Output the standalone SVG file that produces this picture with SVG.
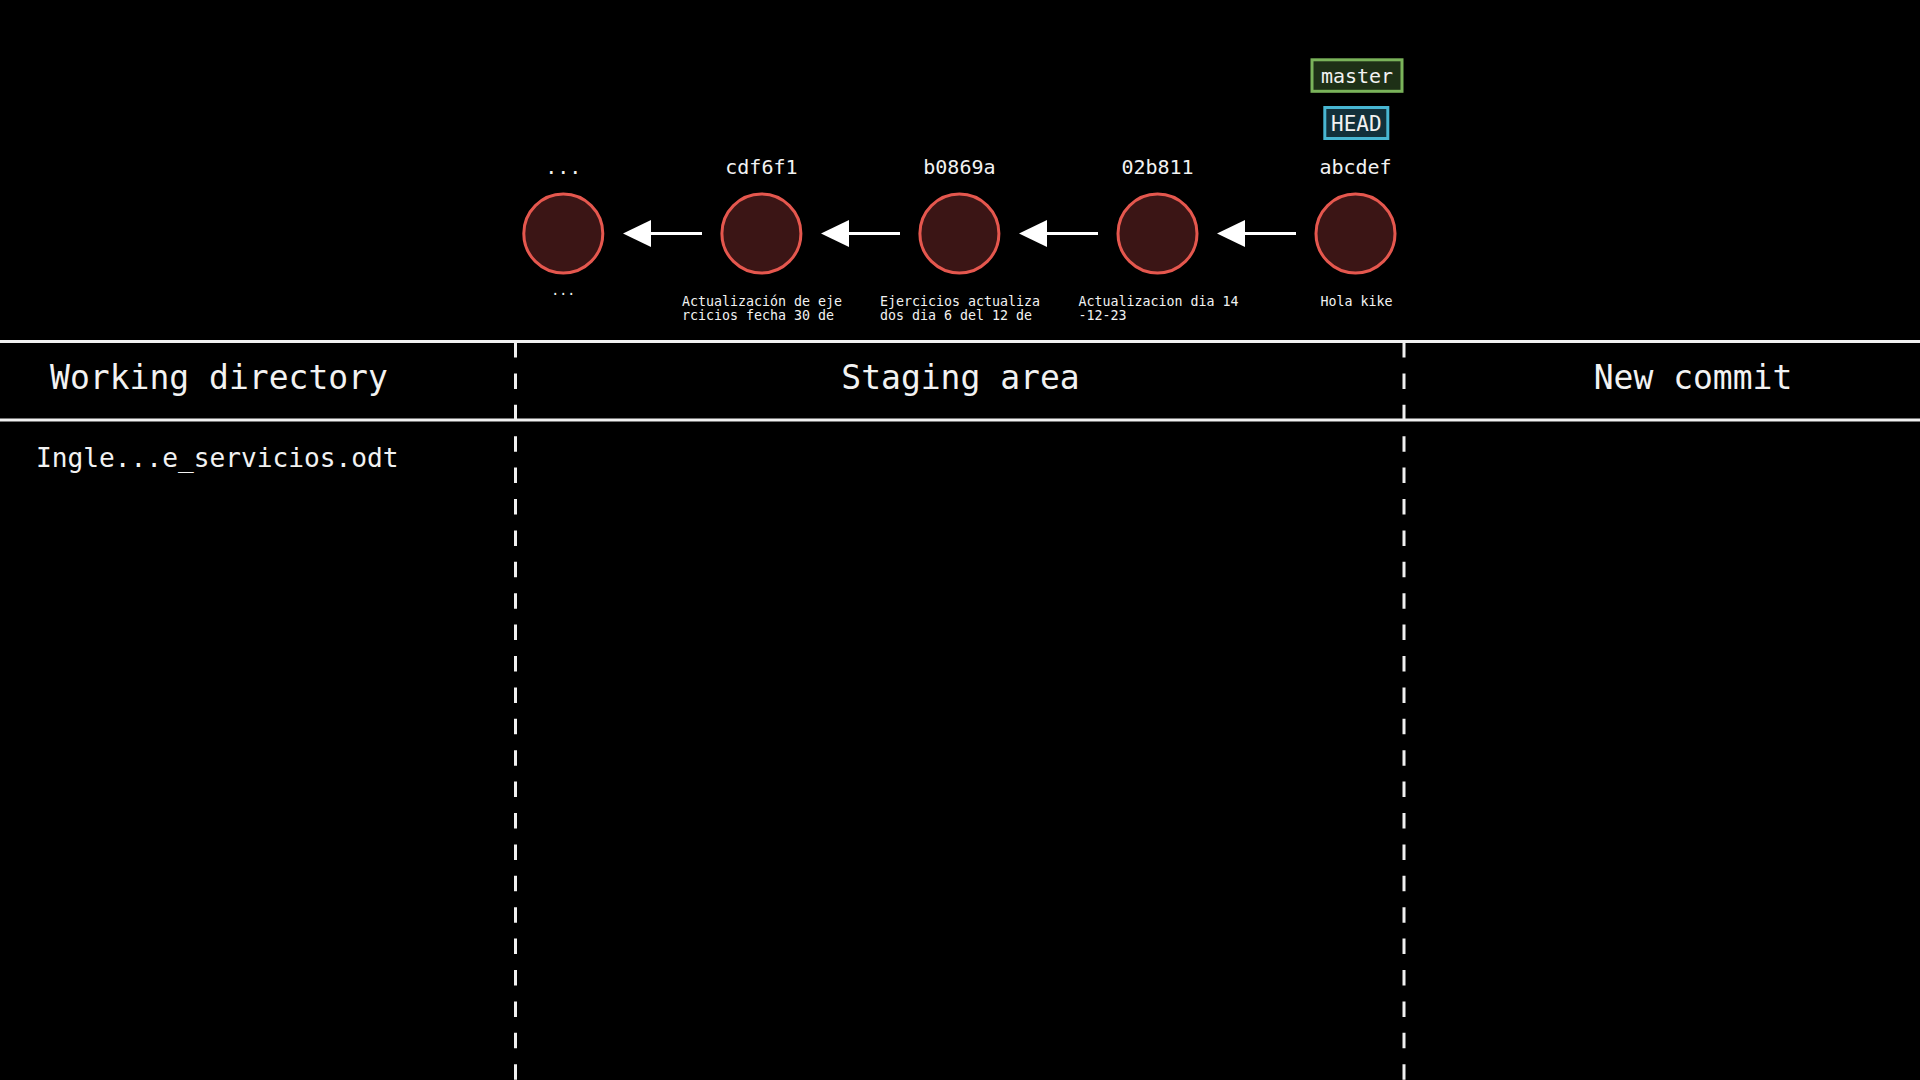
<svg xmlns="http://www.w3.org/2000/svg" width="1920" height="1080" viewBox="0 0 1920 1080">
<style>
text{font-family:"DejaVu Sans Mono","Liberation Mono",monospace;fill:#f2f2f2}
.hash{font-size:20px;text-anchor:middle}
.msg{font-size:13.3px}
.hdr{font-size:33px;text-anchor:middle}
.file{font-size:26.2px}
.commit{fill:#3b1515;stroke:#e5574e;stroke-width:3}
.sep{stroke:#f0f0f0;stroke-width:3}
.dash{stroke:#f0f0f0;stroke-width:3;stroke-dasharray:15.5 15.9}
.conn line{stroke:#ffffff;stroke-width:3}
.conn path{fill:#ffffff}
</style>
<rect width="1920" height="1080" fill="#000"/>
<g id="lanes">
<line class="sep" x1="0" y1="341.5" x2="1920" y2="341.5"/>
<line class="sep" x1="0" y1="420" x2="1920" y2="420"/>
<line class="dash" x1="515.5" y1="342" x2="515.5" y2="1080"/>
<line class="dash" x1="1404" y1="342" x2="1404" y2="1080"/>
<text class="hdr" x="219" y="389">Working directory</text>
<text class="hdr" x="960.5" y="389">Staging area</text>
<text class="hdr" x="1693" y="389">New commit</text>
<text class="file" x="36" y="467">Ingle...e_servicios.odt</text>
</g>
<g id="connectors" class="conn">
<line x1="650" y1="233.5" x2="702" y2="233.5"/><path d="M623 233.5 L651 220 L651 247 Z"/>
<line x1="848" y1="233.5" x2="900" y2="233.5"/><path d="M821 233.5 L849 220 L849 247 Z"/>
<line x1="1046" y1="233.5" x2="1098" y2="233.5"/><path d="M1019 233.5 L1047 220 L1047 247 Z"/>
<line x1="1244" y1="233.5" x2="1296" y2="233.5"/><path d="M1217 233.5 L1245 220 L1245 247 Z"/>
</g>
<g id="commit-prev">
<text class="hash" x="563.3" y="174">...</text>
<circle class="commit" cx="563.3" cy="233.5" r="39.5"/>
<text class="msg" x="563.3" y="295" text-anchor="middle">...</text>
</g>
<g id="commit-cdf6f1">
<text class="hash" x="761.4" y="174">cdf6f1</text>
<circle class="commit" cx="761.4" cy="233.5" r="39.5"/>
<text class="msg" x="682" y="306">Actualización de eje</text>
<text class="msg" x="682" y="319.5">rcicios fecha 30 de</text>
</g>
<g id="commit-b0869a">
<text class="hash" x="959.4" y="174">b0869a</text>
<circle class="commit" cx="959.4" cy="233.5" r="39.5"/>
<text class="msg" x="880" y="306">Ejercicios actualiza</text>
<text class="msg" x="880" y="319.5">dos dia 6 del 12 de</text>
</g>
<g id="commit-02b811">
<text class="hash" x="1157.5" y="174">02b811</text>
<circle class="commit" cx="1157.5" cy="233.5" r="39.5"/>
<text class="msg" x="1078.5" y="306">Actualizacion dia 14</text>
<text class="msg" x="1078.5" y="319.5">-12-23</text>
</g>
<g id="commit-abcdef">
<text class="hash" x="1355.5" y="174">abcdef</text>
<circle class="commit" cx="1355.5" cy="233.5" r="39.5"/>
<text class="msg" x="1320.5" y="306">Hola kike</text>
</g>
<g id="branch-master">
<rect x="1312" y="59.8" width="90" height="31.5" fill="#1e3016" stroke="#7ab35a" stroke-width="3"/>
<text class="hash" x="1357" y="82.5">master</text>
</g>
<g id="head">
<rect x="1324.8" y="107.5" width="63" height="31" fill="#12303a" stroke="#48b6d2" stroke-width="3"/>
<text class="hash" x="1356.3" y="131" style="font-size:21px">HEAD</text>
</g>
</svg>
